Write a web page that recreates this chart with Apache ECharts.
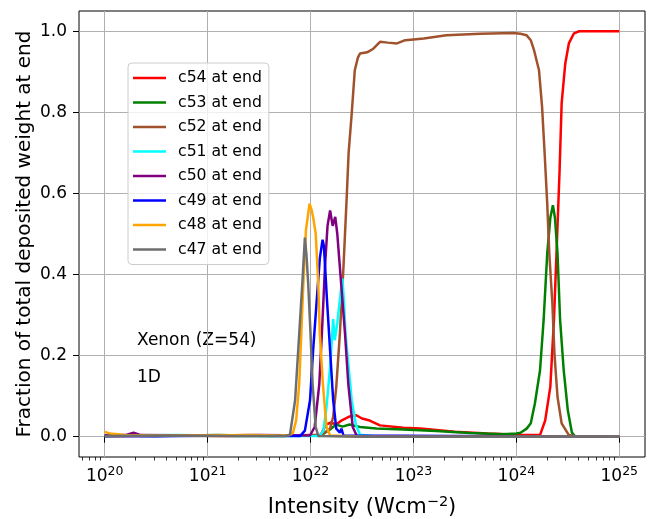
<!DOCTYPE html>
<html>
<head>
<meta charset="utf-8">
<script src="https://cdn.jsdelivr.net/npm/echarts@6/dist/echarts.min.js"></script>
<style>
html,body{margin:0;padding:0;background:#fff;}
#chart{width:652px;height:519px;}
</style>
</head>
<body>
<div id="chart"></div>
<script>
// x values are log10(Intensity / Wcm^-2)
const xTickExponents = [20, 21, 22, 23, 24, 25];
const yTickValues = [0.0, 0.2, 0.4, 0.6, 0.8, 1.0];
const seriesNames = ['c54 at end','c53 at end','c52 at end','c51 at end','c50 at end','c49 at end','c48 at end','c47 at end'];
const seriesColors = ['#ff0000','#008000','#a0522d','#00ffff','#800080','#0000ff','#ffa500','#6e6e6e'];

const c54 = [[20,0.002],[20.6,0.003],[21.2,0.002],[21.8,0.003],[22.1,0.005],[22.15,0.03],[22.2,0.035],[22.25,0.03],[22.3,0.04],[22.38,0.05],[22.445,0.053],[22.5,0.045],[22.575,0.04],[22.675,0.028],[22.9,0.022],[23.07,0.02],[23.4,0.012],[23.72,0.008],[24.04,0.005],[24.23,0.004],[24.28,0.04],[24.33,0.123],[24.365,0.287],[24.39,0.452],[24.42,0.657],[24.44,0.822],[24.475,0.92],[24.51,0.97],[24.56,0.995],[24.61,1.0],[25,1.0]];
const c53 = [[20,0.003],[20.5,0.002],[21.1,0.004],[21.6,0.002],[22.1,0.003],[22.2,0.02],[22.25,0.03],[22.31,0.025],[22.38,0.03],[22.48,0.024],[22.64,0.02],[22.9,0.018],[23.22,0.014],[23.55,0.009],[23.87,0.006],[24.0,0.008],[24.04,0.01],[24.1,0.02],[24.14,0.033],[24.18,0.082],[24.23,0.164],[24.265,0.288],[24.3,0.452],[24.33,0.54],[24.355,0.571],[24.375,0.54],[24.4,0.452],[24.425,0.288],[24.46,0.164],[24.5,0.065],[24.54,0.01],[24.57,0.001],[25,0.0]];
const c52 = [[20,0.001],[20.8,0.003],[21.5,0.002],[22.1,0.003],[22.19,0.02],[22.22,0.049],[22.25,0.123],[22.285,0.254],[22.32,0.419],[22.35,0.583],[22.37,0.7],[22.4,0.797],[22.43,0.904],[22.46,0.935],[22.48,0.945],[22.55,0.948],[22.61,0.957],[22.675,0.974],[22.75,0.972],[22.84,0.97],[22.92,0.978],[23.0,0.98],[23.1,0.982],[23.32,0.99],[23.65,0.994],[23.97,0.996],[24.04,0.994],[24.1,0.99],[24.14,0.978],[24.17,0.955],[24.22,0.904],[24.25,0.813],[24.275,0.698],[24.3,0.575],[24.32,0.452],[24.35,0.328],[24.37,0.205],[24.4,0.098],[24.44,0.033],[24.51,0.004],[24.6,0.0],[25,0.0]];
const c51 = [[20,0.002],[20.7,0.004],[21.3,0.002],[22.09,0.002],[22.125,0.015],[22.155,0.073],[22.19,0.172],[22.22,0.29],[22.235,0.238],[22.26,0.28],[22.29,0.35],[22.31,0.39],[22.325,0.33],[22.34,0.254],[22.37,0.172],[22.4,0.09],[22.44,0.03],[22.48,0.005],[22.6,0.002],[25,0.0]];
const c50 = [[20,0.003],[20.2,0.004],[20.28,0.01],[20.35,0.004],[21.0,0.003],[21.5,0.004],[21.995,0.003],[22.04,0.024],[22.085,0.13],[22.11,0.254],[22.14,0.418],[22.165,0.52],[22.19,0.558],[22.215,0.52],[22.24,0.542],[22.26,0.5],[22.285,0.418],[22.335,0.254],[22.367,0.13],[22.41,0.024],[22.45,0.002],[25,0.0]];
const c49 = [[20,0.002],[20.5,0.001],[21.2,0.003],[21.9,0.002],[21.945,0.015],[21.995,0.09],[22.025,0.213],[22.06,0.336],[22.09,0.44],[22.117,0.486],[22.13,0.47],[22.16,0.336],[22.19,0.213],[22.22,0.09],[22.25,0.02],[22.285,0.01],[22.3,0.02],[22.32,0.003],[25,0.0]];
const c48 = [[20,0.012],[20.05,0.008],[20.2,0.004],[20.6,0.003],[21.0,0.003],[21.4,0.004],[21.7,0.003],[21.8,0.004],[21.83,0.01],[21.86,0.04],[21.89,0.13],[21.91,0.254],[21.93,0.378],[21.955,0.509],[21.977,0.55],[21.99,0.575],[22.0,0.578],[22.01,0.56],[22.025,0.542],[22.05,0.501],[22.075,0.378],[22.09,0.254],[22.12,0.13],[22.155,0.024],[22.19,0.003],[22.5,0.0],[25,0.0]];
const c47 = [[20,0.002],[20.5,0.003],[21.0,0.002],[21.5,0.002],[21.75,0.002],[21.8,0.005],[21.85,0.09],[21.89,0.254],[21.92,0.378],[21.945,0.491],[21.96,0.45],[21.977,0.378],[22.0,0.254],[22.02,0.13],[22.05,0.024],[22.075,0.002],[22.5,0.0],[25,0.0]];
const seriesData = [c54, c53, c52, c51, c50, c49, c48, c47];

const FONT = 'DejaVu Sans';
const xMin = 19.75, xMax = 25.25;
const minorTicks = [];
for (let d = 19; d <= 24; d++) {
  for (let k = 2; k <= 9; k++) {
    const v = d + Math.log10(k);
    if (v >= xMin && v <= xMax) minorTicks.push(v);
  }
}

const chart = echarts.init(document.getElementById('chart'), null, {renderer: 'canvas'});
const option = {
  animation: false,
  backgroundColor: '#ffffff',
  textStyle: {fontFamily: FONT},
  grid: {left: 79, right: 7, top: 11, bottom: 62, show: true, borderColor: '#000', borderWidth: 1, backgroundColor: 'transparent', containLabel: false, outerBoundsMode: 'none'},
  legend: {
    orient: 'vertical', left: 128, top: 63,
    data: seriesNames,
    icon: 'rect',
    itemWidth: 33, itemHeight: 2.5, itemGap: 8.5,
    padding: [7, 7, 7, 5],
    backgroundColor: 'rgba(255,255,255,0.8)', borderColor: '#cccccc', borderWidth: 1, borderRadius: 4,
    textStyle: {fontFamily: FONT, fontSize: 15.7, color: '#000', lineHeight: 16, padding: [0, 0, 0, 7]}
  },
  xAxis: [{
    type: 'value', min: xMin, max: xMax, gridIndex: 0, position: 'bottom',
    name: '{a|Intensity (Wcm}{s|\u22122}{a|)}',
    nameLocation: 'middle', nameGap: 37.5, nameMoveOverlap: false,
    nameTextStyle: {rich: {
      a: {fontFamily: FONT, fontSize: 21, color: '#000', lineHeight: 24, verticalAlign: 'bottom'},
      s: {fontFamily: FONT, fontSize: 14.5, color: '#000', lineHeight: 17, verticalAlign: 'top'}
    }},
    axisLine: {show: false},
    axisTick: {show: true, length: 6, lineStyle: {color: '#000', width: 1}, customValues: xTickExponents},
    axisLabel: {
      margin: 8, customValues: xTickExponents,
      formatter: v => '{b|10}{s|' + Math.round(v) + '}',
      rich: {
        b: {fontFamily: FONT, fontSize: 17, color: '#000', lineHeight: 20, verticalAlign: 'bottom'},
        s: {fontFamily: FONT, fontSize: 12.5, color: '#000', lineHeight: 14, verticalAlign: 'top'}
      }
    },
    splitLine: {show: true, lineStyle: {color: '#b0b0b0', width: 1}}
  }, {
    type: 'value', min: xMin, max: xMax, gridIndex: 0, position: 'bottom',
    axisLine: {show: false},
    axisTick: {show: true, length: 3.5, lineStyle: {color: '#000', width: 0.8}, customValues: minorTicks},
    axisLabel: {show: false},
    splitLine: {show: false}
  }],
  yAxis: {
    type: 'value', min: -0.05, max: 1.05,
    name: 'Fraction of total deposited weight at end',
    nameLocation: 'middle', nameGap: 44, nameRotate: 90, nameMoveOverlap: false,
    nameTextStyle: {fontFamily: FONT, fontSize: 20, color: '#000'},
    axisLine: {show: false},
    axisTick: {show: true, length: 6, lineStyle: {color: '#000', width: 1}, customValues: yTickValues},
    axisLabel: {margin: 12, customValues: yTickValues, fontFamily: FONT, fontSize: 17, color: '#000', formatter: v => v.toFixed(1)},
    splitLine: {show: true, lineStyle: {color: '#b0b0b0', width: 1}}
  },
  graphic: [
    {type: 'text', left: 137, top: 332, style: {text: 'Xenon (Z=54)', font: '17px "DejaVu Sans"', fill: '#000'}},
    {type: 'text', left: 137, top: 369, style: {text: '1D', font: '17px "DejaVu Sans"', fill: '#000'}}
  ],
  series: seriesNames.map((n, i) => ({
    name: n, type: 'line', xAxisIndex: 0, yAxisIndex: 0,
    data: seriesData[i], showSymbol: false, symbol: 'none',
    lineStyle: {color: seriesColors[i], width: 2.5},
    itemStyle: {color: seriesColors[i]},
    emphasis: {disabled: true}
  }))
};
chart.setOption(option);
</script>
</body>
</html>
